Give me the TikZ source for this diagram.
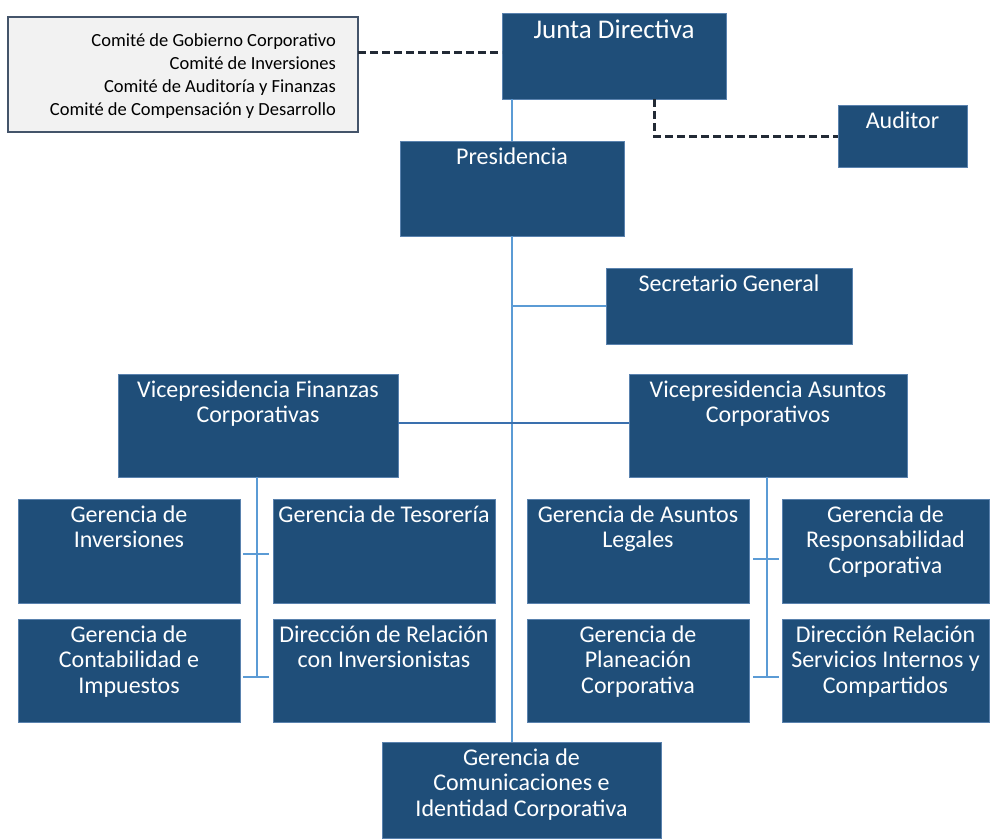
\documentclass[tikz,border=0pt]{standalone}
\usepackage{fontspec}
\setmainfont{Carlito}
\definecolor{boxfill}{HTML}{1F4E79}
\definecolor{boxedge}{HTML}{5A82AE}
\definecolor{lightline}{HTML}{5B9BD5}
\definecolor{midline}{HTML}{3A70AE}
\definecolor{dashcol}{HTML}{222A35}
\definecolor{commfill}{HTML}{F2F2F2}
\definecolor{commedge}{HTML}{44546A}
\newcommand\orgbox[6]{%
  \node[orgnode, minimum width={(#4-#2)*1pt}, minimum height={(#5-#3)*1pt},
        label={[boxtext]north:{#6}}] (#1) at ({(#2+#4)/2},{(#3+#5)/2}) {};}
\begin{document}
\begin{tikzpicture}[x=1pt,y=-1pt,
  orgnode/.style={draw=boxedge, line width=0.8pt, fill=boxfill, inner sep=0pt, outer sep=0pt, rectangle},
  boxtext/.style={anchor=north, inner sep=0pt, yshift=-6.5pt, align=center, text=white,
     font=\fontsize{24}{25.5}\selectfont},
  lightconn/.style={draw=lightline, line width=1.5pt},
  midconn/.style={draw=midline, line width=1.5pt},
  dashconn/.style={draw=dashcol, line width=3pt, dash pattern=on 8pt off 4pt}]
\useasboundingbox (0,0) rectangle (990,838);
% committee box
\node[draw=commedge, line width=1.5pt, fill=commfill, inner sep=0pt, outer sep=0pt,
      minimum width=350pt, minimum height=115pt] (comm) at (183,74.5) {};
\node[anchor=north east, inner sep=0pt, align=right, text=black,
      font=\fontsize{18.5}{23}\selectfont] (commtext) at (336,33)
  {Comité de Gobierno Corporativo\\Comité de Inversiones\\Comité de Auditoría y Finanzas\\Comité de Compensación y Desarrollo};
% boxes
\node[orgnode, minimum width=224pt, minimum height=86pt,
      label={[boxtext, font=\fontsize{27}{29}\selectfont, yshift=0pt]north:{Junta Directiva}}] (junta) at (614,56) {};
\orgbox{auditor}{838}{105}{967}{167}{Auditor}
\orgbox{pres}{400}{141}{624}{236}{Presidencia}
\orgbox{secr}{606}{268}{852}{344}{Secretario General}
\orgbox{vpf}{118}{374}{398}{477}{Vicepresidencia Finanzas\\Corporativas}
\orgbox{vpa}{629}{374}{907}{477}{Vicepresidencia Asuntos\\Corporativos}
\orgbox{ginv}{18}{499}{240}{603}{Gerencia de\\Inversiones}
\orgbox{gtes}{273}{499}{495}{603}{Gerencia de Tesorería}
\orgbox{gcon}{18}{619}{240}{722}{Gerencia de\\Contabilidad e\\Impuestos}
\orgbox{drel}{273}{619}{495}{722}{Dirección de Relación\\con Inversionistas}
\orgbox{gleg}{527}{499}{749}{603}{Gerencia de Asuntos\\Legales}
\orgbox{gres}{782}{499}{989}{603}{Gerencia de\\Responsabilidad\\Corporativa}
\orgbox{gpla}{527}{619}{749}{722}{Gerencia de\\Planeación\\Corporativa}
\orgbox{dser}{782}{619}{989}{722}{Dirección Relación\\Servicios Internos y\\Compartidos}
\orgbox{gcom}{382}{742}{661}{838}{Gerencia de\\Comunicaciones e\\Identidad Corporativa}
% connectors
\draw[dashconn] (comm.east |- 0,52) -- ([yshift=4pt]junta.west);
\draw[dashconn] ([xshift=40pt]junta.south) |- (auditor.west);
\draw[lightconn] (pres.north |- junta.south) -- (pres.north);
\draw[lightconn] (pres.south) -- (pres.south |- gcom.north);
\draw[lightconn] (pres.south |- secr.west) -- (secr.west);
\draw[midconn] (vpf.east |- 0,423) -- (vpa.west |- 0,423);
% left group
\coordinate (lvend) at (257,677);
\coordinate (lt1a) at (243,554); \coordinate (lt1b) at (269,554);
\coordinate (lt2a) at (243,677); \coordinate (lt2b) at (269,677);
\draw[lightconn] (vpf.south -| lvend) -- (lvend);
\draw[lightconn] (lt1a) -- (lt1b);
\draw[lightconn] (lt2a) -- (lt2b);
% right group
\coordinate (rvend) at (767,677);
\coordinate (rt1a) at (753,559); \coordinate (rt1b) at (779,559);
\coordinate (rt2a) at (753,677); \coordinate (rt2b) at (779,677);
\draw[lightconn] (vpa.south -| rvend) -- (rvend);
\draw[lightconn] (rt1a) -- (rt1b);
\draw[lightconn] (rt2a) -- (rt2b);
\end{tikzpicture}
\end{document}
